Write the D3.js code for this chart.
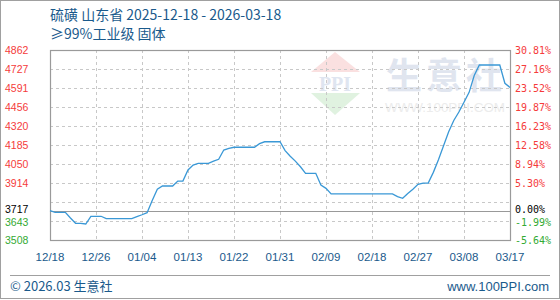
<!DOCTYPE html>
<html>
<head>
<meta charset="utf-8">
<script src="https://cdn.jsdelivr.net/npm/d3@7"></script>
<style>
  html, body { margin: 0; padding: 0; background: #fff; }
  svg { display: block; }
</style>
</head>
<body>
<svg id="chart" width="560" height="300"></svg>
<script>
// ── データ ──────────────────────────────
const xLabels = ['12/18', '12/26', '01/04', '01/13', '01/22', '01/31', '02/09', '02/18', '02/27', '03/08', '03/17'];

// 日次価格（12/18 〜 03/18）
const prices = [
  3717, 3705, 3705, 3705, 3665, 3627, 3627, 3622, 3677, 3677,
  3677, 3660, 3660, 3660, 3660, 3660, 3660, 3674, 3688, 3703,
  3790, 3870, 3893, 3893, 3893, 3928, 3928, 4007, 4042, 4054,
  4054, 4054, 4070, 4083, 4149, 4161, 4169, 4169, 4169, 4169,
  4169, 4195, 4208, 4208, 4208, 4208, 4145, 4105, 4070, 4030,
  3983, 3983, 3983, 3900, 3876, 3836, 3836, 3836, 3836, 3836,
  3836, 3836, 3836, 3836, 3836, 3836, 3836, 3836, 3817, 3805,
  3840, 3870, 3905, 3914, 3914, 3990, 4080, 4180, 4280, 4360,
  4420, 4490, 4560, 4680, 4755, 4755, 4755, 4755, 4755, 4625,
  4595
];

const baseValue = 3717;
const yMin = 3508, yMax = 4862;
const leftLabels = ['4862', '4727', '4591', '4456', '4320', '4185', '4050', '3914', null, '3643', '3508'];
const pctLabels  = ['30.81%', '27.16%', '23.52%', '19.87%', '16.23%', '12.58%', '8.94%', '5.30%', null, '-1.99%', '-5.64%'];

// ── レイアウト ──────────────────────────
const M = { left: 50, right: 510, top: 50, bottom: 240 };
const RED = '#f53b3b', GREEN = '#33aa33', BLUE = '#1a5a8c', LINE = '#3a98d6';

const svg = d3.select('#chart');

const x = d3.scaleLinear().domain([0, prices.length - 1]).range([M.left, M.right]);
const y = d3.scaleLinear().domain([yMin, yMax]).range([M.bottom, M.top]);

// 外枠
svg.append('rect')
  .attr('x', 0.5).attr('y', 0.5).attr('width', 559).attr('height', 298)
  .attr('fill', 'none').attr('stroke', '#a0a0a0');

// タイトル
svg.append('text')
  .attr('x', 50).attr('y', 20)
  .attr('fill', BLUE).attr('font-size', 14)
  .attr('font-family', '"Noto Sans CJK SC", "Noto Sans", sans-serif')
  .text('硫磺 山东省 2025-12-18 - 2026-03-18');
svg.append('text')
  .attr('x', 50).attr('y', 39)
  .attr('fill', BLUE).attr('font-size', 14)
  .attr('font-family', '"Noto Sans CJK SC", "Noto Sans", sans-serif')
  .text('≥99%工业级 固体');

// 透かし（ロゴ + 生意社）
const wm = svg.append('g');
wm.append('path').attr('d', 'M335,52 L360,72 L311,72 Z').attr('fill', '#fae0e0');
wm.append('path').attr('d', 'M311,93 L360,93 L335,115 Z').attr('fill', '#e0f2e0');
wm.append('text').attr('x', 335).attr('y', 91).attr('text-anchor', 'middle')
  .attr('fill', '#dfe5f0').attr('font-size', 20).attr('font-weight', 'bold')
  .attr('font-family', '"Liberation Serif", serif').text('PPI');
wm.append('text').attr('x', 386).attr('y', 89)
  .attr('fill', '#e0e5ef').attr('font-size', 36).attr('font-weight', 'bold')
  .attr('letter-spacing', 4)
  .attr('font-family', '"Noto Sans CJK SC", sans-serif').text('生意社');
wm.append('text').attr('x', 385).attr('y', 112)
  .attr('fill', '#ececec').attr('font-size', 13.5)
  .attr('textLength', 120).attr('lengthAdjust', 'spacingAndGlyphs')
  .attr('font-family', '"Liberation Sans", sans-serif').text('WWW.100PPI.COM');

// グリッド
const gridVals = d3.range(11).map(i => yMax - i * (yMax - yMin) / 10);
svg.append('g').selectAll('line').data(gridVals.slice(1, -1)).join('line')
  .attr('x1', M.left).attr('x2', M.right)
  .attr('y1', d => Math.round(y(d)) + 0.5).attr('y2', d => Math.round(y(d)) + 0.5)
  .attr('stroke', '#c8c8c8').attr('stroke-dasharray', '3,3');

const xTickIdx = xLabels.map((_, i) => i * (prices.length - 1) / (xLabels.length - 1));
svg.append('g').selectAll('line').data(xTickIdx.slice(1, -1)).join('line')
  .attr('x1', d => Math.round(x(d)) + 0.5).attr('x2', d => Math.round(x(d)) + 0.5)
  .attr('y1', M.top).attr('y2', M.bottom)
  .attr('stroke', '#c8c8c8').attr('stroke-dasharray', '3,3');

// 基準線
svg.append('line')
  .attr('x1', M.left).attr('x2', M.right)
  .attr('y1', Math.round(y(baseValue)) + 0.5).attr('y2', Math.round(y(baseValue)) + 0.5)
  .attr('stroke', '#999');

// プロット枠
svg.append('rect')
  .attr('x', M.left + 0.5).attr('y', M.top + 0.5)
  .attr('width', M.right - M.left).attr('height', M.bottom - M.top)
  .attr('fill', 'none').attr('stroke', '#9a9a9a').attr('stroke-width', 1.2);

// 折れ線
svg.append('path')
  .datum(prices)
  .attr('fill', 'none').attr('stroke', LINE).attr('stroke-width', 1.3)
  .attr('d', d3.line().x((d, i) => x(i)).y(d => y(d)));

// 左軸ラベル
const colorOf = v => v > baseValue ? RED : (v < baseValue ? GREEN : '#000');
const leftG = svg.append('g')
  .attr('font-family', '"Liberation Sans", Arial, sans-serif').attr('font-size', 10.5);
gridVals.forEach((v, i) => {
  if (!leftLabels[i]) return;
  leftG.append('text').attr('x', 5).attr('y', y(v) + 4 + (i === 9 ? 1 : 0))
    .attr('fill', colorOf(v)).text(leftLabels[i]);
});
leftG.append('text').attr('x', 5).attr('y', y(baseValue) + 2)
  .attr('fill', '#000').text(String(baseValue));

// 右軸ラベル（%）
const rightG = svg.append('g')
  .attr('font-family', '"DejaVu Sans Mono", monospace').attr('font-size', 10);
gridVals.forEach((v, i) => {
  if (!pctLabels[i]) return;
  rightG.append('text').attr('x', 515).attr('y', y(v) + 4 + (i === 9 ? 1 : 0))
    .attr('fill', colorOf(v)).text(pctLabels[i]);
});
rightG.append('text').attr('x', 515).attr('y', y(baseValue) + 2)
  .attr('fill', '#000').text('0.00%');

// X軸ラベル
svg.append('g').selectAll('text').data(xLabels).join('text')
  .attr('x', (d, i) => x(xTickIdx[i])).attr('y', 261)
  .attr('text-anchor', 'middle').attr('fill', BLUE)
  .attr('font-family', '"Liberation Sans", Arial, sans-serif').attr('font-size', 11.5)
  .text(d => d);

// フッター
svg.append('line')
  .attr('x1', 10).attr('x2', 550).attr('y1', 275.5).attr('y2', 275.5)
  .attr('stroke', '#a0a0a0');
svg.append('text').attr('x', 10).attr('y', 291)
  .attr('fill', BLUE).attr('font-size', 13)
  .attr('font-family', '"Noto Sans CJK SC", sans-serif')
  .text('© 2026.03 生意社');
svg.append('text').attr('x', 549).attr('y', 291).attr('text-anchor', 'end')
  .attr('fill', BLUE).attr('font-size', 13)
  .attr('font-family', '"Liberation Sans", Arial, sans-serif')
  .text('www.100PPI.com');
</script>
</body>
</html>
